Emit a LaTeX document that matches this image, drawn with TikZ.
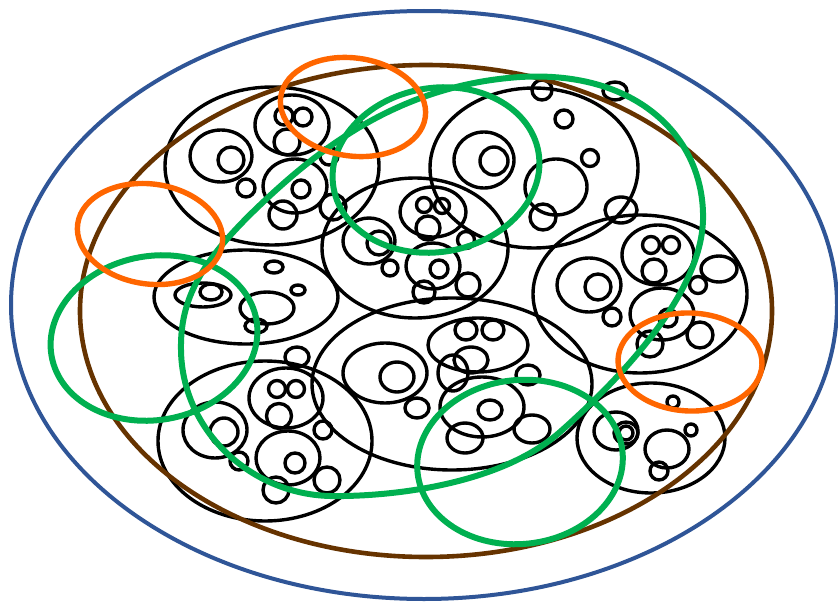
\documentclass[tikz,border=0pt]{standalone}
\begin{document}
\begin{tikzpicture}[x=1pt,y=-1pt,
  blk/.style={draw=black,line width=3.4pt},
  bluering/.style={draw=ringblue,line width=4pt},
  brownring/.style={draw=ringbrown,line width=4.6pt},
  greenring/.style={draw=ringgreen,line width=6pt},
  orangering/.style={draw=ringorange,line width=5.4pt}]
\definecolor{ringblue}{HTML}{2F5597}
\definecolor{ringbrown}{HTML}{663300}
\definecolor{ringgreen}{HTML}{00B050}
\definecolor{ringorange}{HTML}{FF6600}
\newcommand\myell[4]{\draw[blk] (#1,#2) ellipse [x radius=#3pt, y radius=#4pt];}
\newcommand\mycirc[3]{\draw[blk] (#1,#2) circle [radius=#3pt];}
\useasboundingbox (0,0) rectangle (838,602);
\fill[white] (0,0) rectangle (838,602);
% ---------- K1 top-left
\myell{272}{166}{107}{79}
\myell{221}{156}{31}{26}
\mycirc{231}{160}{13}
\mycirc{246}{188}{9}
\myell{292}{125}{37}{30}
\mycirc{284}{116}{9}
\mycirc{303}{117}{9}
\mycirc{287}{142}{13}
\myell{295}{186}{32}{27}
\mycirc{301}{189}{9}
\mycirc{283}{215}{14}
\mycirc{329}{156}{9}
\mycirc{333}{207}{13}
% ---------- K2 centre
\myell{415}{248}{93}{70}
\myell{369}{241}{26}{23}
\mycirc{379}{243}{12}
\mycirc{390}{268}{8}
\myell{433}{212}{33}{25}
\mycirc{424}{205}{7.5}
\mycirc{442}{206}{7.5}
\mycirc{428}{228}{12}
\mycirc{466}{240}{8.5}
\myell{433}{266}{27}{23}
\mycirc{439}{269}{9}
\mycirc{424}{292}{11}
\mycirc{468}{285}{12}
% ---------- K3 top-right
\myell{534}{168}{104}{80}
\myell{484}{160}{30}{28}
\mycirc{494}{161}{14}
\myell{556}{187}{31}{28}
\mycirc{543}{217}{13}
\mycirc{564}{119}{9}
\mycirc{590}{158}{8.5}
\mycirc{542}{90}{10}
\myell{615}{91}{12}{9}
\myell{621}{210}{16}{13}
% ---------- K4 right
\myell{640}{294}{107}{79}
\myell{589}{285}{32}{27}
\mycirc{598}{287}{13}
\mycirc{612}{317}{9}
\myell{658}{255}{36}{30}
\mycirc{651}{245}{8.5}
\mycirc{671}{245}{8.5}
\mycirc{654}{271}{12}
\myell{719}{269}{18}{13}
\mycirc{698}{285}{8.5}
\myell{662}{314}{32}{26}
\mycirc{668}{318}{9}
\mycirc{700}{335}{13}
\mycirc{650}{344}{13}
% ---------- K5 left middle
\myell{246}{297}{92}{47}
\myell{203}{295}{28}{12}
\myell{211}{292}{11}{8}
\myell{274}{267}{9}{6}
\myell{298}{290}{7}{5}
\myell{267}{308}{27}{16}
\myell{256}{326}{11}{7}
% ---------- K6 bottom centre
\myell{452}{384}{140}{86}
\myell{385}{373}{42}{30}
\myell{397}{377}{17}{15}
\myell{417}{408}{12}{10}
\myell{478}{345}{50}{27}
\myell{466}{330}{11}{10}
\myell{493}{330}{11}{10}
\myell{471}{360}{17}{13}
\myell{453}{373}{15}{18}
\myell{528}{375}{12}{10}
\myell{482}{407}{42}{30}
\myell{490}{410}{12}{10}
\myell{465}{438}{18}{15}
\myell{532}{429}{18}{14}
% ---------- K7 bottom left
\myell{265}{441}{107}{80}
\myell{215}{430}{32}{28}
\mycirc{224}{432}{14}
\mycirc{239}{461}{9}
\myell{286}{398}{37}{30}
\mycirc{277}{389}{8.5}
\mycirc{296}{389}{8.5}
\mycirc{279}{416}{12.5}
\myell{288}{458}{32}{27}
\mycirc{295}{463}{10}
\mycirc{276}{490}{13}
\mycirc{327}{480}{13}
\myell{297}{357}{12}{10}
\mycirc{323}{430}{9}
% ---------- K8 bottom right
\myell{651}{438}{74}{55}
\myell{616}{431}{22}{19}
\myell{626}{433}{12}{11}
\mycirc{626}{433}{7}
\mycirc{673}{402}{6}
\mycirc{691}{430}{6}
\myell{667}{449}{22}{19}
\mycirc{659}{471}{9}
% ---------- coloured rings
\draw[bluering] (424,305) ellipse [x radius=413pt, y radius=294pt];
\draw[brownring] (426,311) ellipse [x radius=346pt, y radius=246pt];
\draw[greenring] (181,350) .. controls (180,300) and (200,262) .. (260,205)
  .. controls (320,148) and (400,85) .. (520,77)
  .. controls (640,70) and (705,140) .. (703,220)
  .. controls (701,290) and (630,370) .. (560,432)
  .. controls (500,485) and (390,497) .. (330,496)
  .. controls (250,494) and (182,430) .. (181,350) -- cycle;
\draw[greenring] (154,338) ellipse [x radius=104pt, y radius=82pt, rotate=10];
\draw[greenring] (436,170) ellipse [x radius=104pt, y radius=82pt, rotate=10];
\draw[greenring] (520,462) ellipse [x radius=103pt, y radius=82pt, rotate=6];
\draw[orangering] (353,107) ellipse [x radius=73pt, y radius=49pt, rotate=-8];
\draw[orangering] (150,234) ellipse [x radius=73pt, y radius=50pt, rotate=-8];
\draw[orangering] (690,362) ellipse [x radius=72pt, y radius=49pt, rotate=-2];
\end{tikzpicture}
\end{document}
